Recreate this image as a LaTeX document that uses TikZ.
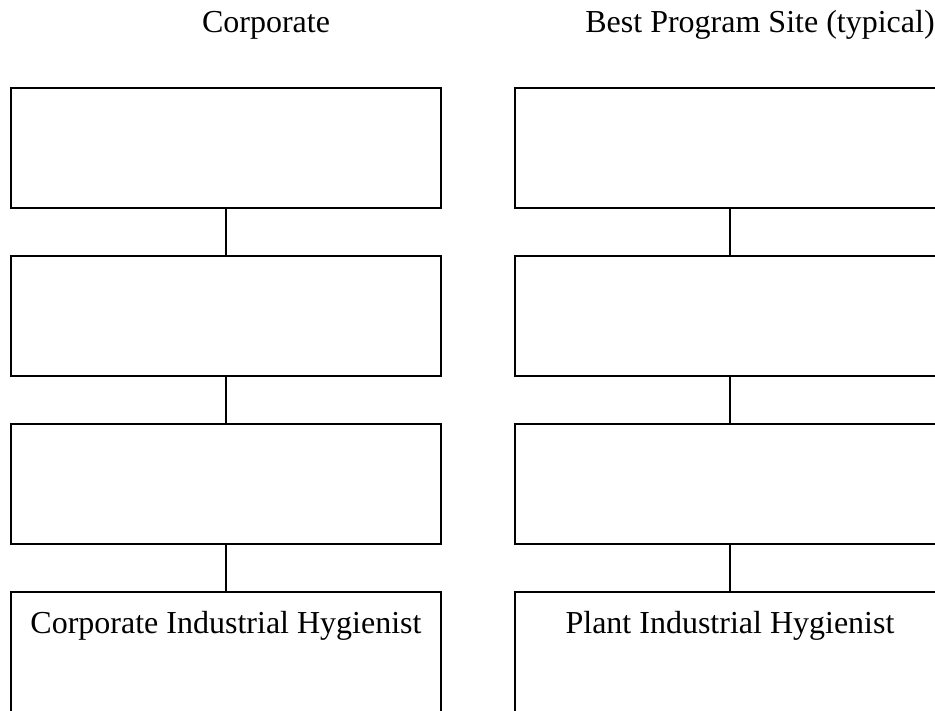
\documentclass[tikz,border=0pt]{standalone}
\usepackage{fontspec}
\setmainfont{Liberation Serif}
\usetikzlibrary{positioning}

\begin{document}
\begin{tikzpicture}[
  x=1pt,y=-1pt,
  orgbox/.style={draw,line width=1.6pt,minimum width=430pt,minimum height=120pt,outer sep=0pt,inner sep=0pt},
  link/.style={line width=1.3pt},
  every node/.style={font=\fontsize{32}{38}\selectfont}
]
  \useasboundingbox (0,0) rectangle (935,711);
  % column headers
  \node[anchor=base] (corphead) at (266,33) {Corporate};
  \node[anchor=base] (sitehead) at (760,33) {Best Program Site (typical)};
  % corporate column
  \node[orgbox] (corpA) at (226,148) {};
  \node[orgbox,below=48pt of corpA] (corpB) {};
  \node[orgbox,below=48pt of corpB] (corpC) {};
  \node[orgbox,below=48pt of corpC] (corpD) {};
  \node[anchor=base] (corpih) at ([yshift=-41pt]corpD.north) {Corporate Industrial Hygienist};
  % site column
  \node[orgbox,right=74pt of corpA] (siteA) {};
  \node[orgbox,below=48pt of siteA] (siteB) {};
  \node[orgbox,below=48pt of siteB] (siteC) {};
  \node[orgbox,below=48pt of siteC] (siteD) {};
  \node[anchor=base] (siteih) at ([yshift=-41pt]siteD.north) {Plant Industrial Hygienist};
  \draw[link] (corpA) -- (corpB);
  \draw[link] (corpB) -- (corpC);
  \draw[link] (corpC) -- (corpD);
  \draw[link] (siteA) -- (siteB);
  \draw[link] (siteB) -- (siteC);
  \draw[link] (siteC) -- (siteD);
\end{tikzpicture}
\end{document}
